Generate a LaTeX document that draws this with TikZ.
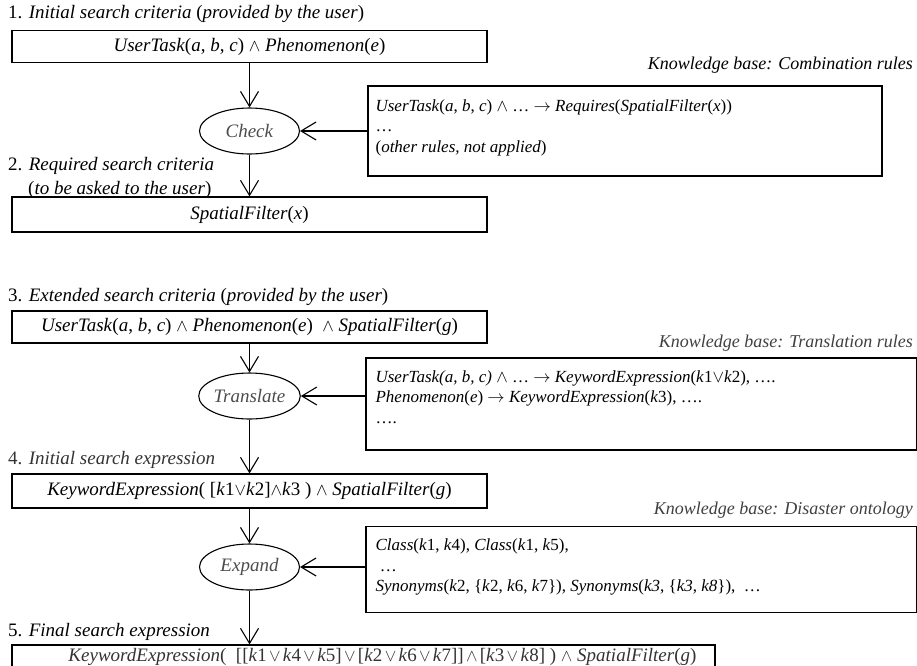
\documentclass[tikz,border=0pt]{standalone}
\usepackage{amsmath}
\usepackage{amssymb}
\usepackage{fontspec}
\setmainfont{Liberation Serif}
\usepackage{tikz}
\usetikzlibrary{shapes.geometric,arrows.meta,positioning}

\newcommand{\tx}[1]{\textit{#1}}
\newcommand{\wor}{\hspace{2.3pt}$\vee$\hspace{2.3pt}}
\newcommand{\wand}{\hspace{2.3pt}$\wedge$\hspace{2.3pt}}

\begin{document}
\begin{tikzpicture}[x=1pt,y=-1pt,font=\fontsize{19}{24}\selectfont,
    exprbox/.style={draw, line width=1.2pt, minimum width=475pt, inner sep=0pt},
    kbbox/.style={draw, line width=1.2pt, inner sep=0pt},
    kbtext/.style={anchor=north west, align=left, inner sep=0pt, font=\fontsize{17}{20.5}\selectfont},
    task/.style={draw, ellipse, line width=1.1pt, minimum width=100pt, minimum height=46pt, inner sep=0pt, text=black!70},
    heading/.style={anchor=west, inner sep=0pt},
    kblabel/.style={anchor=east, inner sep=0pt, font=\fontsize{18}{22}\selectfont},
    flow/.style={line width=1.1pt, -{Straight Barb[length=15pt,width=18pt,line width=1.1pt]}}]
        % Fix the page size
        \useasboundingbox (0,0) rectangle (917,665);

        % Step 1 and the check against the combination rules
        \node[heading] (h1) at (8,14) {1. \tx{Initial search criteria} (\tx{provided by the user})};
        \node[exprbox, minimum height=32pt] (crit) at (249.5,46.5) {\tx{UserTask}(\tx{a}, \tx{b}, \tx{c}) $\wedge$ \tx{Phenomenon}(\tx{e})};
        \node[task] (check) at (249.5,131) {\tx{Check}};
        \node[kblabel] (lab1) at (913,65) {\tx{Knowledge base: Combination rules}};
        \node[kbbox, minimum width=514pt, minimum height=90pt] (kb1) at (625,131) {};
        \node[kbtext] (kb1txt) at ([xshift=8pt,yshift=-14pt]kb1.north west)
            {\tx{UserTask}(\tx{a}, \tx{b}, \tx{c}) $\wedge$ … $\rightarrow$ \tx{Requires}(\tx{SpatialFilter}(\tx{x}))\\
             …\\
             (\tx{other rules, not applied})};

        % Step 2
        \node[heading, align=left] (h2) at (8,178) {2. \tx{Required search criteria}\\
            \hspace*{20pt}(\tx{to be asked to the user})};
        \node[exprbox, minimum height=35pt] (req) at (249.5,214.5) {\tx{SpatialFilter}(\tx{x})};

        \draw[flow] (crit.south) -- (check.north);
        \draw[flow] (kb1) -- (check);
        \draw[flow] (check.south) -- (req.north);

        % Step 3 and the translation
        \node[heading] (h3) at (8,297) {3. \tx{Extended search criteria} (\tx{provided by the user})};
        \node[exprbox, minimum height=32pt] (ext) at (249.5,327) {\tx{UserTask}(\tx{a}, \tx{b}, \tx{c}) $\wedge$ \tx{Phenomenon}(\tx{e}) \ $\wedge$\ \tx{SpatialFilter}(\tx{g})};
        \node[task] (trans) at (249.5,396) {\tx{Translate}};
        \node[kblabel, text=black!75] (lab2) at (913,343) {\tx{Knowledge base: Translation rules}};
        \node[kbbox, minimum width=551pt, minimum height=92pt] (kb2) at (641.5,404) {};
        \node[kbtext] (kb2txt) at ([xshift=10pt,yshift=-13pt]kb2.north west)
            {\tx{UserTask(a, b, c)} $\wedge$ … $\rightarrow$ \tx{KeywordExpression}(\tx{k}1$\vee$\tx{k}2), ….\\
             \tx{Phenomenon}(\tx{e}) $\rightarrow$ \tx{KeywordExpression}(\tx{k}3), ….\\
             ….};

        % Step 4 and the expansion
        \node[heading, text=black!80] (h4) at (8,460) {4. \tx{Initial search expression}};
        \node[exprbox, minimum height=34pt] (init) at (249.5,491) {\tx{KeywordExpression}( [\tx{k}1$\vee$\tx{k}2]$\wedge$\tx{k}3 ) $\wedge$ \tx{SpatialFilter}(\tx{g})};
        \node[task] (expand) at (249.5,567) {\tx{Expand}};
        \node[kblabel, text=black!75] (lab3) at (913,510) {\tx{Knowledge base: Disaster ontology}};
        \node[kbbox, minimum width=551pt, minimum height=86pt] (kb3) at (641.5,569.5) {};
        \node[kbtext] (kb3txt) at ([xshift=10pt,yshift=-13pt]kb3.north west)
            {\tx{Class}(\tx{k}1, \tx{k}4), \tx{Class}(\tx{k}1, \tx{k}5),\\
             \ …\\
             \tx{Synonyms}(\tx{k}2, \{\tx{k}2, \tx{k}6, \tx{k}7\}), \tx{Synonyms}(\tx{k3}, \{\tx{k3}, \tx{k8}\}), \ …};

        % Step 5
        \node[heading] (h5) at (8,632) {5. \tx{Final search expression}};
        \node[exprbox, minimum width=703pt, minimum height=24pt, text=black!80] (final) at (363.5,657)
            {\hspace*{38pt}\tx{KeywordExpression}(\ \ [[\tx{k}1\wor\tx{k}4\wor\tx{k}5]\wor[\tx{k}2\wor\tx{k}6\wor\tx{k}7]]\wand[\tx{k}3\wor\tx{k}8] ) $\wedge$ \tx{SpatialFilter}(\tx{g})};

        \draw[flow] (ext.south) -- (trans.north);
        \draw[flow] (kb2.west |- trans.east) -- (trans.east);
        \draw[flow] (trans.south) -- (init.north);
        \draw[flow] (init.south) -- (expand.north);
        \draw[flow] (kb3.west |- expand.east) -- (expand.east);
        \draw[flow] (expand.south) -- (expand.south |- final.north);
\end{tikzpicture}
\end{document}
